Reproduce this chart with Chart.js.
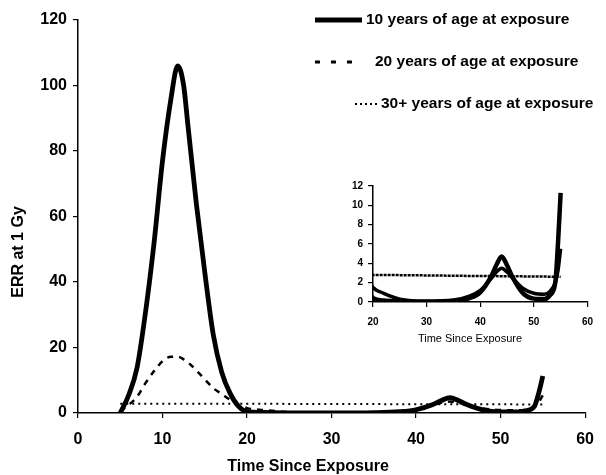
<!DOCTYPE html>
<html>
<head>
<meta charset="utf-8">
<script src="https://cdn.jsdelivr.net/npm/chart.js@4.4.1/dist/chart.umd.min.js"></script>
<style>
  body { margin: 0; background: #fff; }
  #wrap { position: relative; width: 606px; height: 475px; }
  #main { position: absolute; left: 0; top: 0; }
  #inset { position: absolute; left: 340px; top: 175px; }
</style>
</head>
<body>
<div id="wrap">
  <canvas id="main" width="606" height="475"></canvas>
  <canvas id="inset" width="262" height="175"></canvas>
</div>
<script>
// values (ERR at 1 Gy vs time since exposure)
const seriesNames = ['10 years of age at exposure', '20 years of age at exposure', '30+ years of age at exposure'];
const years = [5, 6, 7, 8, 9, 10, 11, 11.8, 12.5, 13, 14, 15, 16, 17, 18, 19, 20, 22, 25, 30,
               35, 38, 40, 42, 43, 44, 45, 46, 48, 50, 52, 53, 54, 54.5, 55];
const age10 = [0, 5.5, 14, 31, 52, 77, 96, 106, 100, 88, 64, 43, 24, 12.5, 6, 2, 0.4, 0.15, 0.02, 0,
               0.1, 0.4, 1, 2.6, 3.8, 4.7, 3.8, 2.6, 0.9, 0.35, 0.3, 0.7, 2, 6, 11.3];
const age20 = [0.5, 2.5, 5, 9.2, 12.8, 15.8, 17.2, 17.2, 16.4, 15.5, 13, 10.3, 7.6, 5.8, 4, 2.5, 1.5, 0.9, 0.3, 0.1,
               0.2, 0.6, 1.2, 2.4, 3.1, 3.5, 3.1, 2.5, 1.4, 0.9, 0.8, 1.1, 2, 3.2, 5.5];
const age30 = [2.85, 2.85, 2.85, 2.85, 2.85, 2.85, 2.85, 2.85, 2.85, 2.85, 2.85, 2.85, 2.85, 2.8, 2.8, 2.8, 2.8, 2.8, 2.78, 2.75,
               2.72, 2.7, 2.7, 2.68, 2.68, 2.67, 2.67, 2.66, 2.65, 2.64, 2.63, 2.62, 2.61, 2.6, 2.6];
const xTicksMain = [0, 10, 20, 30, 40, 50, 60];
const xTicksInset = [20, 30, 40, 50, 60];

const FONT = "'Liberation Sans', Arial, sans-serif";

function pts(vals) {
    return years.map((x, i) => ({ x: x, y: vals[i] }));
}

// text drawn at fixed spots (axis titles sit off-centre in the original)
const freeText = {
    id: 'freeText',
    afterDraw(chart, args, opts) {
        const ctx = chart.ctx;
        (opts.items || []).forEach(t => {
            ctx.save();
            ctx.font = t.font;
            ctx.fillStyle = '#000';
            ctx.textAlign = 'center';
            ctx.textBaseline = 'middle';
            ctx.translate(t.x, t.y);
            if (t.rotate) ctx.rotate(t.rotate);
            ctx.fillText(t.text, 0, 0);
            ctx.restore();
        });
    }
};

const sideLegend = {
    id: 'sideLegend',
    afterDraw(chart, args, opts) {
        if (!opts.rows) return;
        const ctx = chart.ctx;
        chart.data.datasets.forEach((ds, i) => {
            const r = opts.rows[i];
            ctx.save();
            ctx.strokeStyle = '#000';
            ctx.lineWidth = r.w;
            ctx.setLineDash(r.dash);
            ctx.beginPath();
            ctx.moveTo(r.x0, r.y);
            ctx.lineTo(r.x1, r.y);
            ctx.stroke();
            ctx.setLineDash([]);
            ctx.font = opts.font;
            ctx.fillStyle = '#000';
            ctx.textAlign = 'left';
            ctx.textBaseline = 'middle';
            ctx.fillText(ds.label, r.tx, r.y);
            ctx.restore();
        });
    }
};

function axis(min, max, step, tickList, size, pad, fit) {
    return {
        type: 'linear', min: min, max: max,
        afterBuildTicks: tickList ? (s) => { s.ticks = tickList.map(v => ({ value: v })); } : undefined,
        ticks: { stepSize: step, color: '#000', padding: pad, maxRotation: 0,
                 font: { family: FONT, size: size, weight: 'bold' } },
        grid: { drawOnChartArea: false, color: '#000', tickLength: 5, lineWidth: 1.2 },
        border: { color: '#000', width: 1.5 },
        afterFit: fit
    };
}

const mainChart = new Chart(document.getElementById('main'), {
    type: 'line',
    data: {
        datasets: [
            { label: seriesNames[0], data: pts(age10), borderColor: '#000', borderWidth: 4.8 },
            { label: seriesNames[1], data: pts(age20), borderColor: '#000', borderWidth: 2.5, borderDash: [6, 6] },
            { label: seriesNames[2], data: pts(age30), borderColor: '#000', borderWidth: 2, borderDash: [2, 4] }
        ]
    },
    options: {
        responsive: false,
        animation: false,
        layout: { padding: { top: 20, right: 9, left: 0, bottom: 0 } },
        elements: { point: { radius: 0 }, line: { cubicInterpolationMode: 'monotone' } },
        plugins: {
            legend: { display: false },
            tooltip: { enabled: false },
            freeText: { items: [
                { text: 'Time Since Exposure', x: 308, y: 467, font: 'bold 16px ' + FONT },
                { text: 'ERR at 1 Gy', x: 19, y: 252, font: 'bold 16px ' + FONT, rotate: -Math.PI / 2 }
            ] },
            sideLegend: {
                font: 'bold 15.5px ' + FONT,
                rows: [
                    { y: 20, x0: 315, x1: 362, w: 5, dash: [], tx: 366 },
                    { y: 62, x0: 315, x1: 356, w: 3, dash: [5, 11], tx: 375 },
                    { y: 104, x0: 355, x1: 379, w: 2, dash: [2, 3], tx: 381 }
                ]
            }
        },
        scales: {
            x: axis(0, 60, 10, xTicksMain, 16, 12, (s) => { s.height = 62; }),
            y: axis(0, 120, 20, null, 16, 6, (s) => { s.width = 78; })
        }
    },
    plugins: [freeText, sideLegend]
});

const insetChart = new Chart(document.getElementById('inset'), {
    type: 'line',
    data: {
        datasets: [
            { label: seriesNames[0], data: pts(age10), borderColor: '#000', borderWidth: 4.5 },
            { label: seriesNames[1], data: pts(age20), borderColor: '#000', borderWidth: 3.5 },
            { label: seriesNames[2], data: pts(age30), borderColor: '#000', borderWidth: 2.5, borderDash: [3, 1] }
        ]
    },
    options: {
        responsive: false,
        animation: false,
        layout: { padding: { top: 8, right: 7, left: 0, bottom: 0 } },
        elements: { point: { radius: 0 }, line: { cubicInterpolationMode: 'monotone' } },
        plugins: {
            legend: { display: false },
            tooltip: { enabled: false },
            freeText: { items: [
                { text: 'Time Since Exposure', x: 130, y: 164, font: '11px ' + FONT }
            ] }
        },
        scales: {
            x: axis(20, 60, 10, xTicksInset, 10, 9, (s) => { s.height = 48; }),
            y: axis(0, 12, 2, null, 10, 5, (s) => { s.width = 33; })
        }
    },
    plugins: [freeText]
});
</script>
</body>
</html>
